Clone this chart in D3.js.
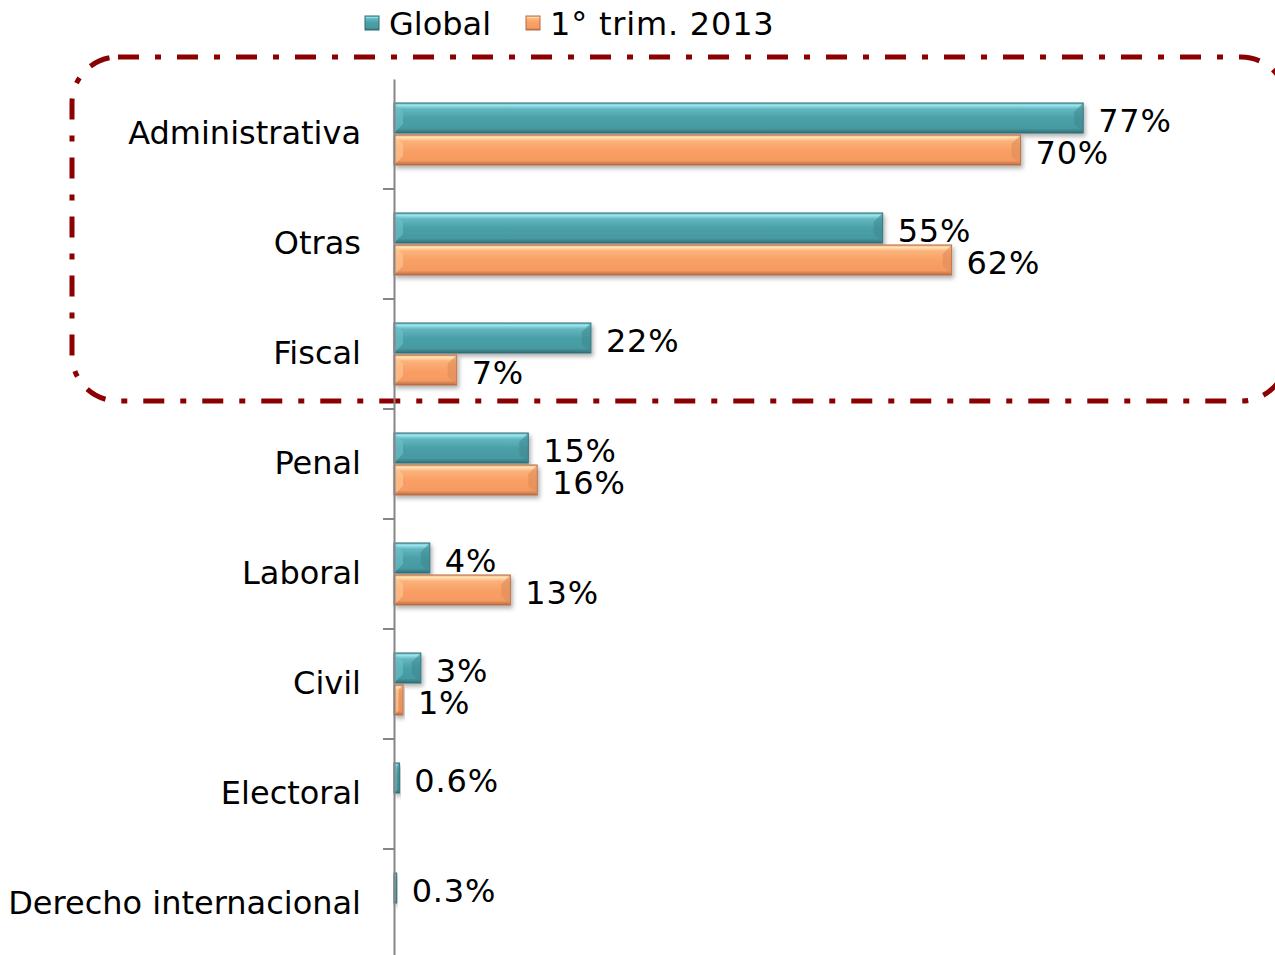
<!DOCTYPE html>
<html>
<head>
<meta charset="utf-8">
<script src="https://cdn.jsdelivr.net/npm/d3@7"></script>
<style>
  body { margin: 0; background: #fff; }
  text { font-family: "DejaVu Sans", Verdana, sans-serif; fill: #000; }
</style>
</head>
<body>
<svg width="1275" height="955"></svg>
<script>
// ---------------- data ----------------
var categories = ["Administrativa", "Otras", "Fiscal", "Penal", "Laboral", "Civil", "Electoral", "Derecho internacional"];
var seriesNames = ["Global", "1° trim. 2013"];
var globalValues = [77, 54.6, 22, 15, 4, 3, 0.6, 0.3];
var trimValues = [70, 62.3, 7, 16, 13, 1, null, null];
var globalLabels = ["77%", "55%", "22%", "15%", "4%", "3%", "0.6%", "0.3%"];
var trimLabels = ["70%", "62%", "7%", "16%", "13%", "1%", "", ""];
var highlighted = ["Administrativa", "Otras", "Fiscal"];

// ---------------- layout ----------------
var axisX = 394;
var plotTop = 79, plotBottom = 959;
var fontSize = 32;

var svg = d3.select("svg");
var defs = svg.append("defs");

// gradients for bevelled bars
function makeGrad(id, stops) {
  var g = defs.append("linearGradient").attr("id", id)
    .attr("x1", 0).attr("y1", 0).attr("x2", 0).attr("y2", 1);
  stops.forEach(function(s) {
    g.append("stop").attr("offset", s[0]).attr("stop-color", s[1]);
  });
}
makeGrad("gTeal", [[0, "#6fc2cb"], [0.08, "#9be3ec"], [0.2, "#63b6bf"], [0.5, "#4ba0a8"], [0.85, "#4799a1"], [1, "#336f75"]]);
makeGrad("gOrange", [[0, "#f9b27d"], [0.08, "#ffe2b4"], [0.2, "#fcb27b"], [0.5, "#f9a066"], [0.85, "#f59b62"], [1, "#b86e45"]]);

var shadow = defs.append("filter").attr("id", "shadow")
  .attr("x", "-10%").attr("y", "-30%").attr("width", "130%").attr("height", "180%");
shadow.append("feDropShadow").attr("dx", 2).attr("dy", 3).attr("stdDeviation", 2)
  .attr("flood-color", "#000").attr("flood-opacity", 0.3);

var colors = {
  "Global": { fill: "url(#gTeal)", stroke: "#2f6a70", dark: "#3f8a91", light: "#6cc3cc" },
  "1° trim. 2013": { fill: "url(#gOrange)", stroke: "#b36b43", dark: "#e08c5a", light: "#ffc898" }
};

// scales
var x = d3.scaleLinear().domain([0, 100]).range([axisX, axisX + 895]);
var y0 = d3.scaleBand().domain(categories).range([plotTop, plotBottom])
  .paddingInner(48 / 110).paddingOuter(24 / 110);
var y1 = d3.scaleBand().domain(seriesNames).range([0, y0.bandwidth()]).paddingInner(1 / 16);

var rows = [];
categories.forEach(function(c, i) {
  rows.push({ cat: c, series: "Global", value: globalValues[i], label: globalLabels[i] });
  if (trimValues[i] != null) rows.push({ cat: c, series: "1° trim. 2013", value: trimValues[i], label: trimLabels[i] });
});

// ---------------- highlight box ----------------
var step = y0.step();
var gap = (step - y0.bandwidth()) / 2;
var boxTop = y0(highlighted[0]) - gap - 22;
var boxBottom = y0(highlighted[highlighted.length - 1]) + y0.bandwidth() + gap - 8;
svg.append("rect")
  .attr("x", 72).attr("y", boxTop)
  .attr("width", 1215).attr("height", boxBottom - boxTop)
  .attr("rx", 46).attr("ry", 46)
  .attr("fill", "none")
  .attr("stroke", "#8b0000")
  .attr("stroke-width", 5)
  .attr("stroke-dasharray", "21,16,6,16");

// ---------------- bars ----------------
var bars = svg.append("g").selectAll("g.bar")
  .data(rows).enter().append("g").attr("class", "bar");

bars.append("rect")
  .attr("x", x(0))
  .attr("y", function(d) { return y0(d.cat) + y1(d.series); })
  .attr("width", function(d) { return x(d.value) - x(0); })
  .attr("height", y1.bandwidth())
  .attr("fill", function(d) { return colors[d.series].fill; })
  .attr("stroke", function(d) { return colors[d.series].stroke; })
  .attr("stroke-width", 1)
  .attr("filter", "url(#shadow)");

// bevel facets at both ends
bars.append("path")
  .attr("d", function(d) {
    var x0 = x(0), x1 = x(d.value), yy = y0(d.cat) + y1(d.series), h = y1.bandwidth();
    var b = Math.min(9, (x1 - x0) / 2);
    return "M" + (x1 - b) + "," + (yy + b) + "L" + x1 + "," + yy + "L" + x1 + "," + (yy + h) + "L" + (x1 - b) + "," + (yy + h - b) + "Z";
  })
  .attr("fill", function(d) { return colors[d.series].dark; })
  .attr("opacity", 0.6);
bars.append("path")
  .attr("d", function(d) {
    var x0 = x(0), x1 = x(d.value), yy = y0(d.cat) + y1(d.series), h = y1.bandwidth();
    var b = Math.min(9, (x1 - x0) / 2);
    return "M" + x0 + "," + yy + "L" + (x0 + b) + "," + (yy + b) + "L" + (x0 + b) + "," + (yy + h - b) + "L" + x0 + "," + (yy + h) + "Z";
  })
  .attr("fill", function(d) { return colors[d.series].light; })
  .attr("opacity", 0.6);

// value labels
bars.append("text")
  .attr("x", function(d) { return x(d.value) + 15; })
  .attr("y", function(d) { return y0(d.cat) + y1(d.series) + y1.bandwidth() / 2 + 2; })
  .attr("dy", "0.36em")
  .attr("font-size", fontSize)
  .attr("letter-spacing", 0.8)
  .text(function(d) { return d.label; });

// ---------------- axis ----------------
var axis = svg.append("g")
  .attr("transform", "translate(" + axisX + ",0)")
  .call(d3.axisLeft(y0).tickSize(0).tickSizeOuter(0).tickPadding(33));
axis.select(".domain").attr("stroke", "#868686").attr("stroke-width", 2);
axis.selectAll(".tick text")
  .attr("font-size", fontSize)
  .attr("font-family", "DejaVu Sans, Verdana, sans-serif")
  .attr("fill", "#000");

// boundary tick marks between categories
svg.append("g").selectAll("line")
  .data(categories.slice(1))
  .enter().append("line")
  .attr("x1", axisX - 11).attr("x2", axisX)
  .attr("y1", function(d) { return y0(d) - gap; })
  .attr("y2", function(d) { return y0(d) - gap; })
  .attr("stroke", "#868686").attr("stroke-width", 2);

// ---------------- legend ----------------
var legendX = [365, 526];
var legend = svg.append("g").selectAll("g")
  .data(seriesNames).enter().append("g")
  .attr("transform", function(d, i) { return "translate(" + legendX[i] + ",16)"; });
legend.append("rect")
  .attr("width", 14).attr("height", 14)
  .attr("fill", function(d) { return colors[d].fill; })
  .attr("stroke", function(d) { return colors[d].stroke; });
legend.append("text")
  .attr("x", 24).attr("y", 7)
  .attr("dy", "0.36em")
  .attr("font-size", fontSize)
  .attr("letter-spacing", function(d, i) { return i ? 0.8 : 0; })
  .text(function(d) { return d; });
</script>
</body>
</html>
